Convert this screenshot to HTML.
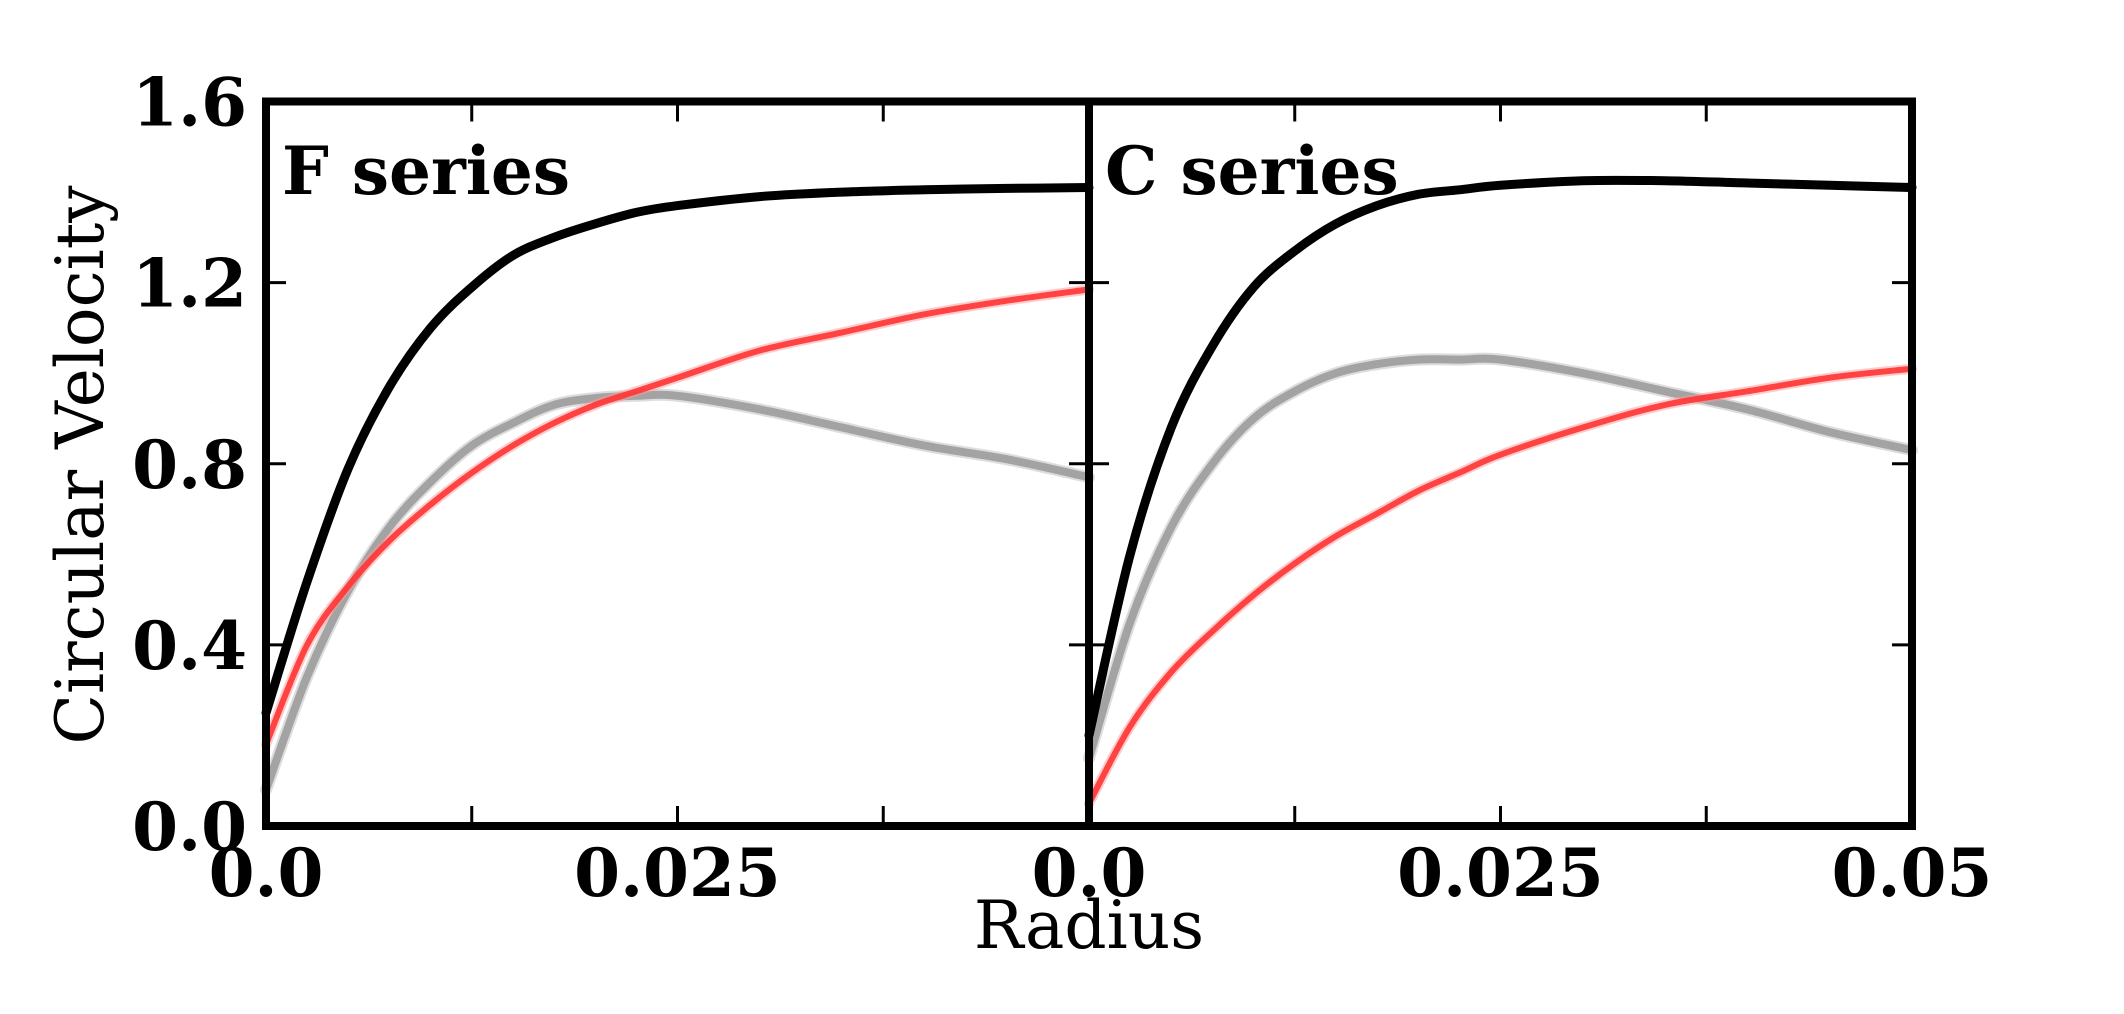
<!DOCTYPE html>
<html><head><meta charset="utf-8"><style>
html,body{margin:0;padding:0;background:#fff;}
svg{display:block;}
text{font-family:"DejaVu Serif","Liberation Serif",serif;}
</style></head><body>
<svg id="chart" width="2124" height="1014" viewBox="0 0 2124 1014" xmlns="http://www.w3.org/2000/svg"></svg>
<script>
const radii = [0,0.0025,0.005,0.0075,0.01,0.0125,0.015,0.0175,0.02,0.0225,0.025,0.03,0.035,0.04,0.045,0.05];
const fBlack = [0.25,0.54,0.79,0.97,1.10,1.19,1.26,1.30,1.33,1.355,1.37,1.39,1.40,1.405,1.408,1.41];
const fGray  = [0.08,0.33,0.52,0.66,0.76,0.84,0.89,0.93,0.945,0.95,0.95,0.92,0.88,0.84,0.81,0.77];
const fRed   = [0.18,0.40,0.53,0.63,0.71,0.78,0.84,0.89,0.93,0.96,0.99,1.05,1.09,1.13,1.16,1.185];
const cBlack = [0.20,0.60,0.88,1.06,1.19,1.27,1.33,1.37,1.395,1.405,1.415,1.425,1.425,1.42,1.415,1.41];
const cGray  = [0.15,0.45,0.66,0.80,0.90,0.96,1.00,1.02,1.03,1.03,1.03,1.00,0.96,0.92,0.87,0.83];
const cRed   = [0.05,0.22,0.34,0.43,0.51,0.58,0.64,0.69,0.74,0.78,0.82,0.88,0.93,0.96,0.99,1.01];
const yTicks = [0,0.4,0.8,1.2,1.6];
const yTickLabels = ["0.0","0.4","0.8","1.2","1.6"];
const xTicks = [0,0.0125,0.025,0.0375,0.05];
const xTickLabels = ["0.0","","0.025","","0.05"];

const NS="http://www.w3.org/2000/svg";
const svgEl=document.getElementById('chart');
const yTop=101.5,yBot=826,xL=266,xM=1089,xR=1912;
function ys(v){return yBot-(v/1.6)*(yBot-yTop);}
function mk(t,a){const e=document.createElementNS(NS,t);for(const k in a)e.setAttribute(k,a[k]);svgEl.appendChild(e);return e;}
function smooth(pts){
  let d='M'+pts[0][0].toFixed(1)+','+pts[0][1].toFixed(1);
  for(let i=0;i<pts.length-1;i++){
    const p0=pts[Math.max(0,i-1)],p1=pts[i],p2=pts[i+1],p3=pts[Math.min(pts.length-1,i+2)];
    const c1=[p1[0]+(p2[0]-p0[0])/6,p1[1]+(p2[1]-p0[1])/6];
    const c2=[p2[0]-(p3[0]-p1[0])/6,p2[1]-(p3[1]-p1[1])/6];
    d+=' C'+c1[0].toFixed(1)+','+c1[1].toFixed(1)+' '+c2[0].toFixed(1)+','+c2[1].toFixed(1)+' '+p2[0].toFixed(1)+','+p2[1].toFixed(1);
  }
  return d;
}
function panel(x0,x1,series,name,label,showLastX){
  const xs=v=>x0+(v/0.05)*(x1-x0);
  series.forEach(s=>{
    const d=smooth(radii.map((r,i)=>[xs(r),ys(s.vals[i])]));
    if(s.halo){
      const h=mk('path',{d:d,fill:'none',stroke:s.halo,'stroke-width':s.w+4,'stroke-linejoin':'round','stroke-linecap':'round',opacity:0.5});
      
      
    }
    const p=mk('path',{d:d,fill:'none',stroke:s.color,'stroke-width':s.w,'stroke-linejoin':'round','stroke-linecap':'round',opacity:s.op});
    
    
  });
  xTicks.forEach((t,i)=>{
    const x=xs(t);
    if(i>0&&i<xTicks.length-1){
      const a=mk('line',{x1:x,x2:x,y1:yBot,y2:yBot-20,stroke:'#000','stroke-width':3});
      
      
      const b=mk('line',{x1:x,x2:x,y1:yTop,y2:yTop+20,stroke:'#000','stroke-width':3});
      
      
    }
    if(xTickLabels[i]&&(i<xTicks.length-1||showLastX)){
      const tx=mk('text',{x:x,y:yBot+70,'text-anchor':'middle','font-size':66,'font-weight':'bold'});
      tx.textContent=xTickLabels[i];
      
      
    }
  });
  yTicks.forEach((t,i)=>{
    if(i>0&&i<yTicks.length-1){
      const y=ys(t);
      const a=mk('line',{x1:x0,x2:x0+20,y1:y,y2:y,stroke:'#000','stroke-width':3});
      
      
      const b=mk('line',{x1:x1,x2:x1-20,y1:y,y2:y,stroke:'#000','stroke-width':3});
      
      
    }
  });
  const fr=mk('rect',{x:x0,y:yTop,width:x1-x0,height:yBot-yTop,fill:'none',stroke:'#000','stroke-width':8});
  
  
  const lb=mk('text',{x:x0+16,y:194,'font-size':66,'font-weight':'bold'});
  lb.textContent=label;
  
  
}
panel(xL,xM,[{vals:fGray,color:'#999',halo:'#bbb',w:8,op:0.85,n:'gray'},{vals:fRed,color:'#f33',halo:'#f99',w:6,op:0.9,n:'red'},{vals:fBlack,color:'#000',w:9,op:1,n:'black'}],'f-panel','F series',false);
panel(xM,xR,[{vals:cGray,color:'#999',halo:'#bbb',w:8,op:0.85,n:'gray'},{vals:cRed,color:'#f33',halo:'#f99',w:6,op:0.9,n:'red'},{vals:cBlack,color:'#000',w:9,op:1,n:'black'}],'c-panel','C series',true);
yTicks.forEach((t,i)=>{
  const tx=mk('text',{x:247,y:ys(t)+24,'text-anchor':'end','font-size':66,'font-weight':'bold'});
  tx.textContent=yTickLabels[i];
  
  
});
const yt=mk('text',{x:0,y:0,'text-anchor':'middle','font-size':66,transform:'translate(103,465) rotate(-90)'});
yt.textContent='Circular Velocity';


const xt=mk('text',{x:xM,y:948,'text-anchor':'middle','font-size':66});
xt.textContent='Radius';


</script>
</body></html>
